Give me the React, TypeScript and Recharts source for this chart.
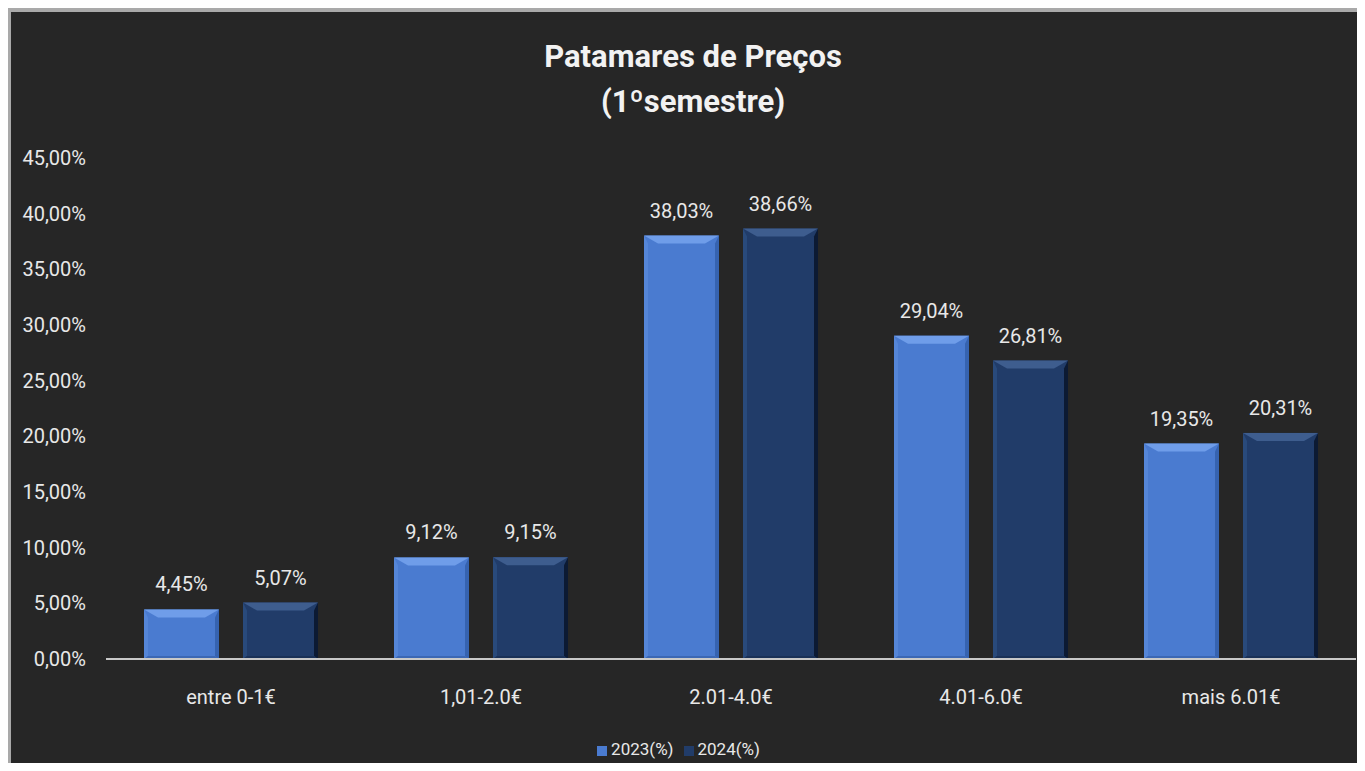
import { BarChart, Bar, XAxis, YAxis, Legend, LabelList } from 'recharts';

const categories = ['entre 0-1€', '1,01-2.0€', '2.01-4.0€', '4.01-6.0€', 'mais 6.01€'];
const values2023 = [4.45, 9.12, 38.03, 29.04, 19.35];
const values2024 = [5.07, 9.15, 38.66, 26.81, 20.31];
const yTicks = [0, 5, 10, 15, 20, 25, 30, 35, 40, 45];

const data = categories.map((name, i) => ({
  name,
  y2023: values2023[i],
  y2024: values2024[i],
}));

const fmt = (v: number) => `${v.toFixed(2).replace('.', ',')}%`;
const FONT = 'Roboto, "Open Sans", sans-serif';
const TXT = '#e8e8e8';

// bevelled bar, like the Excel preset
const makeBevel = (c: { main: string; top: string; left: string; right: string; bottom: string }) =>
  (props: any) => {
    const { x, y, width, height } = props;
    if (!height || height <= 0) return <g />;
    const t = Math.min(8, height / 2);
    const s = 4;
    return (
      <g>
        <rect x={x} y={y} width={width} height={height} fill={c.main} />
        <polygon points={`${x},${y} ${x + s},${y + t} ${x + s},${y + height - 3} ${x},${y + height}`} fill={c.left} />
        <polygon points={`${x + width},${y} ${x + width - s},${y + t} ${x + width - s},${y + height - 3} ${x + width},${y + height}`} fill={c.right} />
        <polygon points={`${x},${y + height} ${x + s},${y + height - 3} ${x + width - s},${y + height - 3} ${x + width},${y + height}`} fill={c.bottom} />
        <polygon points={`${x},${y} ${x + width},${y} ${x + width - 14},${y + t} ${x + 14},${y + t}`} fill={c.top} />
      </g>
    );
  };

const light = { main: '#4a7bd0', top: '#6f9de9', left: '#5586d8', right: '#3663b0', bottom: '#3b67b4' };
const dark = { main: '#213c69', top: '#3e5d8e', left: '#294a7b', right: '#0c1a33', bottom: '#1a3157' };

export default function App() {
  return (
    <div style={{ position: 'relative', width: 1365, height: 771, background: '#a9a9a9', margin: -8, fontFamily: FONT }}>
      <div style={{ position: 'absolute', left: 11, top: 12, width: 1354, height: 759, background: '#262626' }}>
        <svg width={1354} height={130} style={{ position: 'absolute', left: 0, top: 0 }}>
          <text x={682} y={55} textAnchor="middle" fill="#f2f2f2" fontSize={31} fontWeight={700} fontFamily={FONT}>
            Patamares de Preços
          </text>
          <text x={682} y={100} textAnchor="middle" fill="#f2f2f2" fontSize={31} fontWeight={700} fontFamily={FONT}>
            (1ºsemestre)
          </text>
        </svg>
        <BarChart
          width={1354}
          height={759}
          data={data}
          margin={{ top: 146, right: 9, bottom: 12, left: 0 }}
          barCategoryGap={38}
          barGap={24}
        >
          <XAxis
            dataKey="name"
            height={80}
            tickLine={false}
            tickSize={0}
            axisLine={{ stroke: '#c8c8c8', strokeWidth: 2 }}
            tick={{ fill: TXT, fontSize: 20, fontFamily: FONT }}
            tickMargin={31}
          />
          <YAxis
            width={95}
            domain={[0, 45]}
            ticks={yTicks}
            tickFormatter={fmt}
            axisLine={false}
            tickLine={false}
            tickSize={0}
            tickMargin={20}
            tick={{ fill: TXT, fontSize: 20, fontFamily: FONT }}
          />
          <Legend
            verticalAlign="bottom"
            iconType="square"
            iconSize={10}
            wrapperStyle={{ fontSize: 17, color: TXT, fontFamily: FONT }}
            formatter={(v) => <span style={{ color: TXT }}>{v}</span>}
          />
          <Bar dataKey="y2023" name="2023(%)" fill={light.main} barSize={75} shape={makeBevel(light)} isAnimationActive={false}>
            <LabelList dataKey="y2023" position="top" offset={18} formatter={(v: any) => fmt(v)} fill={TXT} fontSize={20} fontFamily={FONT} />
          </Bar>
          <Bar dataKey="y2024" name="2024(%)" fill={dark.main} barSize={75} shape={makeBevel(dark)} isAnimationActive={false}>
            <LabelList dataKey="y2024" position="top" offset={18} formatter={(v: any) => fmt(v)} fill={TXT} fontSize={20} fontFamily={FONT} />
          </Bar>
        </BarChart>
      </div>
    </div>
  );
}
